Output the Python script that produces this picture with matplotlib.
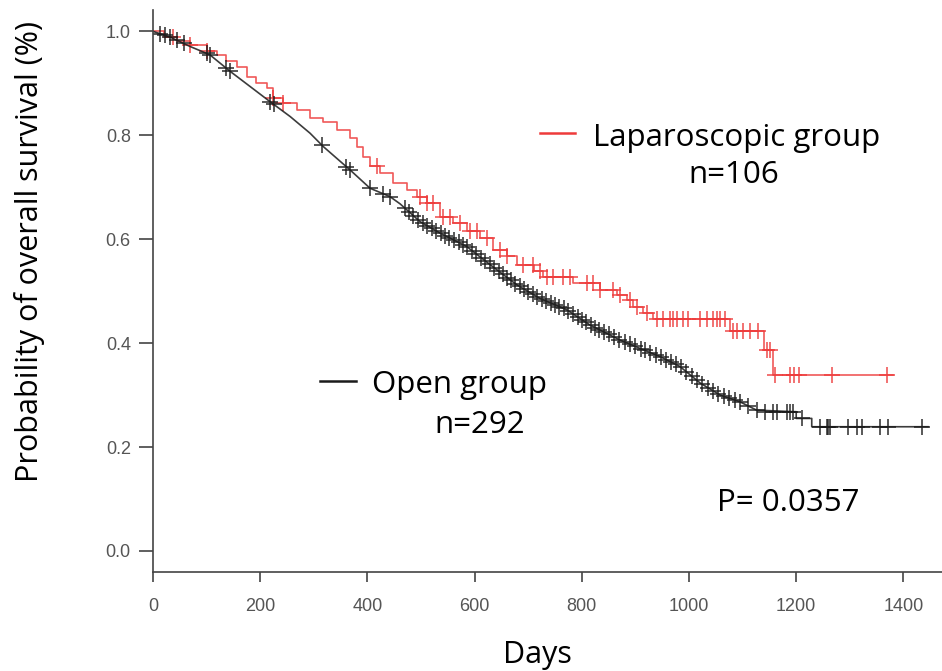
import numpy as np
import matplotlib
matplotlib.use('Agg')
import matplotlib.pyplot as plt

# --- Kaplan-Meier curves, overall survival, laparoscopic vs open group

# laparoscopic group (red): step start times (days) and survival
lap_t = [0, 20, 45, 69, 100, 119, 137, 156, 175, 193, 212, 224, 243, 268, 293, 318,
         343, 368, 380, 392, 405, 424, 448, 473, 492, 511, 535, 560, 585, 610, 635,
         660, 679, 710, 728, 784, 834, 865, 884, 896, 915, 933, 1076, 1139, 1157]
lap_s = [1.0, 0.990, 0.981, 0.974, 0.962, 0.955, 0.942, 0.932, 0.913, 0.900, 0.891,
         0.871, 0.862, 0.849, 0.833, 0.826, 0.810, 0.794, 0.778, 0.759, 0.740, 0.727,
         0.708, 0.695, 0.682, 0.669, 0.643, 0.631, 0.615, 0.602, 0.579, 0.567, 0.551,
         0.538, 0.528, 0.515, 0.502, 0.493, 0.483, 0.470, 0.458, 0.447, 0.424, 0.387,
         0.339]
lap_end = 1381
lap_cens = [38, 69, 100, 224, 243, 417, 498, 511, 522, 541, 554, 573, 591, 604, 623,
            647, 660, 690, 709, 722, 735, 746, 765, 778, 810, 821, 834, 858, 871, 890,
            903, 922, 940, 951, 964, 970, 977, 989, 998, 1021, 1034, 1045, 1052, 1058,
            1067, 1082, 1089, 1101, 1114, 1129, 1145, 1151, 1160, 1188, 1195, 1206,
            1266, 1369]

# open group (black): near-continuous curve
open_t = [0, 32, 69, 106, 144, 181, 218, 256, 293, 318, 368, 405, 442, 461, 498, 535,
          585, 634, 679, 722, 772, 815, 871, 908, 946, 983, 1021, 1058, 1095, 1126,
          1194, 1200, 1200, 1229, 1229, 1446]
open_s = [1.0, 0.989, 0.971, 0.955, 0.923, 0.894, 0.865, 0.836, 0.804, 0.778, 0.733,
          0.698, 0.682, 0.668, 0.634, 0.612, 0.586, 0.547, 0.512, 0.486, 0.464, 0.435,
          0.406, 0.390, 0.374, 0.355, 0.323, 0.300, 0.287, 0.271, 0.268, 0.268, 0.255,
          0.255, 0.239, 0.239]
open_cens = [13, 22, 32, 44, 57, 100, 106, 137, 144, 218, 225, 315, 361, 368, 405, 430,
             442, 470, 478, 486, 495, 503, 512, 520, 528, 537, 545, 553, 562, 570, 578,
             586, 595, 603, 612, 620, 628, 636, 645, 653, 661, 668, 676, 684, 692, 700,
             709, 717, 725, 733, 742, 750, 758, 766, 775, 783, 792, 800, 808, 817, 825,
             833, 842, 850, 860, 870, 880, 890, 900, 910, 918, 928, 938, 948, 958, 966,
             975, 985, 995, 1005, 1015, 1025, 1035, 1045, 1055, 1065, 1075, 1085, 1095,
             1110, 1126, 1142, 1157, 1164, 1182, 1188, 1194, 1210, 1244, 1257, 1260,
             1263, 1297, 1313, 1322, 1356, 1372, 1434]

red = '#ee3b3b'
black = '#1a1a1a'

fig = plt.figure(figsize=(9.42, 6.71), dpi=100)
ax = fig.add_axes((0.1624, 0.148, 0.8376, 0.837))

# red: step function
lt = np.array(lap_t + [lap_end])
ls = np.array(lap_s + [lap_s[-1]])
ax.step(lt, ls, where='post', color=red, lw=1.2, alpha=0.85)
lc = np.array(lap_cens)
lc_s = np.array(lap_s)[np.searchsorted(lap_t, lc, side='right') - 1]
ax.plot(lc, lc_s, ls='none', marker='+', ms=11, mew=1.2, color=red, alpha=0.85)

# black
ax.plot(open_t, open_s, color=black, lw=1.2, alpha=0.85)
oc = np.array(open_cens)
oc_s = np.interp(oc, open_t[:30], open_s[:30])
oc_s = np.where(oc >= 1229, 0.239, np.where(oc >= 1200, 0.255, oc_s))
oc_s = np.where((oc > 1126) & (oc < 1200), 0.268, oc_s)
ax.plot(oc, oc_s, ls='none', marker='+', ms=11, mew=1.2, color=black, alpha=0.85)

ax.set_xlim(0, 1472)
ax.set_ylim(-0.04, 1.041)
ax.set_xticks([0, 200, 400, 600, 800, 1000, 1200, 1400])
ax.set_yticks([0.0, 0.2, 0.4, 0.6, 0.8, 1.0])
ax.set_yticklabels(['0.0', '0.2', '0.4', '0.6', '0.8', '1.0'])
for s in ['top', 'right']:
    ax.spines[s].set_visible(False)
for s in ['left', 'bottom']:
    ax.spines[s].set_color('#444444')
    ax.spines[s].set_linewidth(1.2)
ax.tick_params(axis='y', length=10, width=1.2, color='#444444', pad=6,
               labelsize=13, labelcolor='#555555')
ax.tick_params(axis='x', length=7, width=1.2, color='#444444', pad=12,
               labelsize=13, labelcolor='#555555')
for lab in ax.get_xticklabels() + ax.get_yticklabels():
    lab.set_family('Liberation Sans')

tf = 'Open Sans'
fs = 22.5
ax.plot([722, 787], [0.804, 0.804], color=red, lw=1.8)
ax.text(821, 0.780, 'Laparoscopic group', family=tf, fontsize=fs, va='baseline')
ax.text(1084, 0.709, 'n=106', family=tf, fontsize=fs, va='baseline', ha='center')
ax.plot([312, 379], [0.327, 0.327], color=black, lw=1.8)
ax.text(409, 0.304, 'Open group', family=tf, fontsize=fs, va='baseline')
ax.text(610, 0.227, 'n=292', family=tf, fontsize=fs, va='baseline', ha='center')
ax.text(1052, 0.077, 'P= 0.0357', family=tf, fontsize=fs, va='baseline')

fig.text(30 / 942, 1 - 251 / 671, 'Probability of overall survival (%)', family=tf,
         fontsize=22, rotation=90, ha='center', va='center')
fig.text(537 / 942, 1 - 655 / 671, 'Days', family=tf, fontsize=22,
         ha='center', va='center')

fig.savefig('out.png', dpi=100)
